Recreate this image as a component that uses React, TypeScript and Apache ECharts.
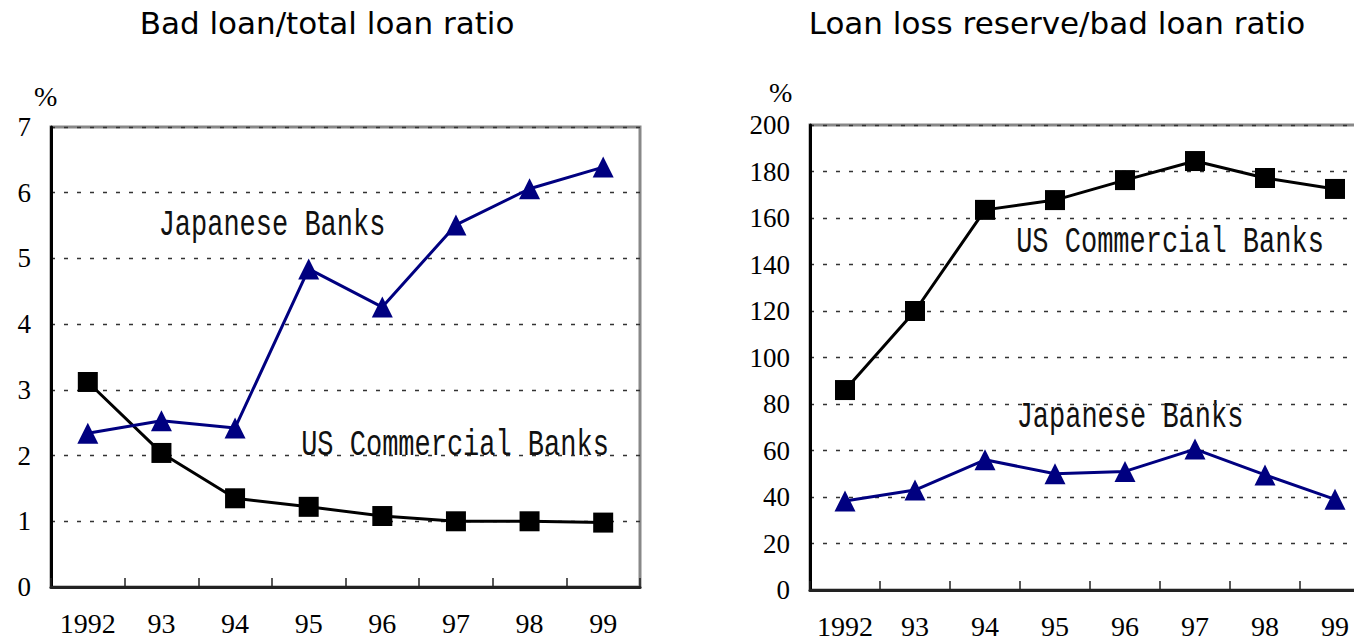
import React, { useEffect, useRef } from "react";
import * as echarts from "echarts";

const years = ["1992", "93", "94", "95", "96", "97", "98", "99"];

const badUS = [3.12, 2.04, 1.35, 1.22, 1.08, 1.0, 1.0, 0.98];
const badJP = [2.34, 2.53, 2.42, 4.84, 4.26, 5.51, 6.06, 6.39];

const resUS = [86, 120, 163.5, 167.7, 176.3, 184.5, 177.2, 172.5];
const resJP = [38.3, 43, 56, 50, 51, 60.6, 49.5, 39];

const titles = ["Bad loan/total loan ratio", "Loan loss reserve/bad loan ratio"];
const seriesNames = ["US Commercial Banks", "Japanese Banks"];

const NAVY = "#000080";
const BLACK = "#000000";
const SERIF = "'Liberation Serif', 'DejaVu Serif', serif";
const MONO = "'Liberation Mono', 'DejaVu Sans Mono', monospace";
const SANS = "'DejaVu Sans', 'Noto Sans', sans-serif";

function xAxisCfg(gridIndex: number) {
  return {
    type: "category",
    gridIndex,
    data: years,
    boundaryGap: true,
    axisLine: { show: true, lineStyle: { color: "#222", width: 3 } },
    axisTick: { show: true, inside: true, length: 9, interval: 0, lineStyle: { color: "#222", width: 1.5 } },
    axisLabel: { color: "#000", fontFamily: SERIF, fontSize: 28, margin: 22, interval: 0 },
    splitLine: { show: false },
  };
}

function yAxisCfg(gridIndex: number, max: number, interval: number) {
  return {
    type: "value",
    gridIndex,
    min: 0,
    max,
    interval,
    axisLine: { show: true, lineStyle: { color: "#000", width: 3 } },
    axisTick: { show: false },
    axisLabel: { color: "#000", fontFamily: SERIF, fontSize: 27, margin: 20 },
    splitLine: { show: true, lineStyle: { color: "#333", width: 1.3, type: [4, 9] } },
  };
}

function lineSeries(name: string, data: number[], idx: number, color: string, symbol: string) {
  return {
    type: "line",
    name,
    xAxisIndex: idx,
    yAxisIndex: idx,
    data,
    symbol,
    symbolSize: symbol === "rect" ? 20 : 21,
    showSymbol: true,
    lineStyle: { color, width: 3 },
    itemStyle: { color },
    z: symbol === "rect" ? 3 : 4,
  };
}

function annot(text: string, x: number, y: number) {
  return {
    type: "text",
    x,
    y,
    scaleY: 1.4,
    style: { text, font: `27px ${MONO}`, fill: "#111", align: "center", verticalAlign: "middle" },
  };
}

export default function App() {
  const ref = useRef<HTMLDivElement>(null);
  useEffect(() => {
    if (!ref.current) return;
    const chart = echarts.init(ref.current, null, { renderer: "svg" });
    chart.setOption({
      animation: false,
      backgroundColor: "#fff",
      title: [
        {
          text: titles[0],
          left: 322,
          top: 2,
          textAlign: "center",
          textStyle: { fontFamily: SANS, fontSize: 31, fontWeight: "normal", color: "#000" },
        },
        {
          text: titles[1],
          left: 1052,
          top: 2,
          textAlign: "center",
          textStyle: { fontFamily: SANS, fontSize: 31, fontWeight: "normal", color: "#000" },
        },
      ],
      grid: [
        { left: 51, width: 589, top: 127, height: 460, show: true, borderColor: "#888", borderWidth: 3, backgroundColor: "transparent" },
        { left: 810, width: 560, top: 125, height: 465, show: true, borderColor: "#888", borderWidth: 3, backgroundColor: "transparent" },
      ],
      xAxis: [xAxisCfg(0), xAxisCfg(1)],
      yAxis: [yAxisCfg(0, 7, 1), yAxisCfg(1, 200, 20)],
      series: [
        lineSeries(seriesNames[0], badUS, 0, BLACK, "rect"),
        lineSeries(seriesNames[1], badJP, 0, NAVY, "triangle"),
        lineSeries(seriesNames[0], resUS, 1, BLACK, "rect"),
        lineSeries(seriesNames[1], resJP, 1, NAVY, "triangle"),
      ],
      graphic: [
        { type: "text", left: 34, top: 82, style: { text: "%", font: `28px ${SERIF}`, fill: "#000" } },
        { type: "text", left: 769, top: 78, style: { text: "%", font: `28px ${SERIF}`, fill: "#000" } },
        annot(seriesNames[1], 272, 225),
        annot(seriesNames[0], 455, 445),
        annot(seriesNames[0], 1170, 242),
        annot(seriesNames[1], 1130, 417),
      ],
    });
    return () => chart.dispose();
  }, []);
  return (
    <div style={{ position: "absolute", left: 0, top: 0, width: 1354, height: 641, overflow: "hidden" }}>
      <div ref={ref} style={{ width: 1380, height: 641 }} />
    </div>
  );
}
